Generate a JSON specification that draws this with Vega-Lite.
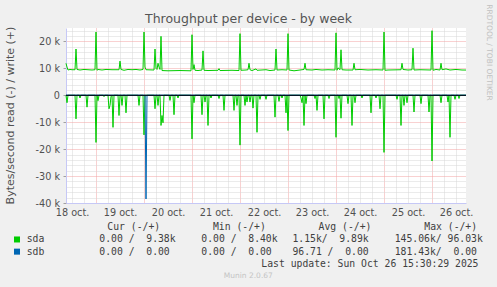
{
"$schema":"https://vega.github.io/schema/vega-lite/v6.json",
"width":400,"height":175,
"autosize":{"type":"none"},
"padding":{"left":66,"top":28,"right":31,"bottom":84},
"background":"#f0f0f0",
"config":{"view":{"fill":"white","stroke":null},"font":"DejaVu Sans"},
"datasets":{
"tp":[
{"device":"sda","dir":"write","t":"2025-10-18T09:00Z","v":11900},
{"device":"sda","dir":"write","t":"2025-10-18T09:30Z","v":10500},
{"device":"sda","dir":"write","t":"2025-10-18T10:00Z","v":9400},
{"device":"sda","dir":"write","t":"2025-10-18T11:00Z","v":9600},
{"device":"sda","dir":"write","t":"2025-10-18T12:00Z","v":9500},
{"device":"sda","dir":"write","t":"2025-10-18T13:30Z","v":9500},
{"device":"sda","dir":"write","t":"2025-10-18T14:00Z","v":17200},
{"device":"sda","dir":"write","t":"2025-10-18T14:30Z","v":9600},
{"device":"sda","dir":"write","t":"2025-10-18T16:00Z","v":9400},
{"device":"sda","dir":"write","t":"2025-10-18T18:00Z","v":9600},
{"device":"sda","dir":"write","t":"2025-10-18T20:00Z","v":9500},
{"device":"sda","dir":"write","t":"2025-10-18T22:00Z","v":9400},
{"device":"sda","dir":"write","t":"2025-10-18T23:30Z","v":9500},
{"device":"sda","dir":"write","t":"2025-10-19T00:00Z","v":23500},
{"device":"sda","dir":"write","t":"2025-10-19T00:30Z","v":9300},
{"device":"sda","dir":"write","t":"2025-10-19T01:00Z","v":9600},
{"device":"sda","dir":"write","t":"2025-10-19T03:00Z","v":9400},
{"device":"sda","dir":"write","t":"2025-10-19T05:00Z","v":9600},
{"device":"sda","dir":"write","t":"2025-10-19T08:00Z","v":9500},
{"device":"sda","dir":"write","t":"2025-10-19T11:30Z","v":9500},
{"device":"sda","dir":"write","t":"2025-10-19T12:00Z","v":12700},
{"device":"sda","dir":"write","t":"2025-10-19T12:30Z","v":9600},
{"device":"sda","dir":"write","t":"2025-10-19T14:00Z","v":9300},
{"device":"sda","dir":"write","t":"2025-10-19T16:00Z","v":9600},
{"device":"sda","dir":"write","t":"2025-10-19T18:00Z","v":9500},
{"device":"sda","dir":"write","t":"2025-10-19T20:00Z","v":9600},
{"device":"sda","dir":"write","t":"2025-10-19T22:00Z","v":9400},
{"device":"sda","dir":"write","t":"2025-10-19T23:30Z","v":9600},
{"device":"sda","dir":"write","t":"2025-10-20T00:00Z","v":23500},
{"device":"sda","dir":"write","t":"2025-10-20T00:30Z","v":10500},
{"device":"sda","dir":"write","t":"2025-10-20T01:00Z","v":9500},
{"device":"sda","dir":"write","t":"2025-10-20T05:00Z","v":9400},
{"device":"sda","dir":"write","t":"2025-10-20T05:30Z","v":17200},
{"device":"sda","dir":"write","t":"2025-10-20T06:00Z","v":10000},
{"device":"sda","dir":"write","t":"2025-10-20T06:30Z","v":9600},
{"device":"sda","dir":"write","t":"2025-10-20T07:00Z","v":11900},
{"device":"sda","dir":"write","t":"2025-10-20T07:30Z","v":10500},
{"device":"sda","dir":"write","t":"2025-10-20T08:00Z","v":9600},
{"device":"sda","dir":"write","t":"2025-10-20T08:30Z","v":21900},
{"device":"sda","dir":"write","t":"2025-10-20T09:00Z","v":9200},
{"device":"sda","dir":"write","t":"2025-10-20T12:00Z","v":9100},
{"device":"sda","dir":"write","t":"2025-10-20T18:00Z","v":9200},
{"device":"sda","dir":"write","t":"2025-10-20T23:30Z","v":9100},
{"device":"sda","dir":"write","t":"2025-10-21T00:00Z","v":22500},
{"device":"sda","dir":"write","t":"2025-10-21T00:30Z","v":9600},
{"device":"sda","dir":"write","t":"2025-10-21T01:00Z","v":11400},
{"device":"sda","dir":"write","t":"2025-10-21T01:30Z","v":9300},
{"device":"sda","dir":"write","t":"2025-10-21T03:00Z","v":9200},
{"device":"sda","dir":"write","t":"2025-10-21T05:00Z","v":9400},
{"device":"sda","dir":"write","t":"2025-10-21T05:30Z","v":16500},
{"device":"sda","dir":"write","t":"2025-10-21T06:00Z","v":9300},
{"device":"sda","dir":"write","t":"2025-10-21T08:00Z","v":9200},
{"device":"sda","dir":"write","t":"2025-10-21T13:00Z","v":9300},
{"device":"sda","dir":"write","t":"2025-10-21T13:30Z","v":9900},
{"device":"sda","dir":"write","t":"2025-10-21T14:00Z","v":9200},
{"device":"sda","dir":"write","t":"2025-10-21T20:00Z","v":9300},
{"device":"sda","dir":"write","t":"2025-10-21T23:30Z","v":9200},
{"device":"sda","dir":"write","t":"2025-10-22T00:00Z","v":22900},
{"device":"sda","dir":"write","t":"2025-10-22T00:30Z","v":9300},
{"device":"sda","dir":"write","t":"2025-10-22T03:00Z","v":9400},
{"device":"sda","dir":"write","t":"2025-10-22T04:00Z","v":9500},
{"device":"sda","dir":"write","t":"2025-10-22T04:30Z","v":11900},
{"device":"sda","dir":"write","t":"2025-10-22T05:00Z","v":9500},
{"device":"sda","dir":"write","t":"2025-10-22T06:00Z","v":9200},
{"device":"sda","dir":"write","t":"2025-10-22T08:00Z","v":9800},
{"device":"sda","dir":"write","t":"2025-10-22T08:30Z","v":9300},
{"device":"sda","dir":"write","t":"2025-10-22T13:00Z","v":9500},
{"device":"sda","dir":"write","t":"2025-10-22T15:00Z","v":9200},
{"device":"sda","dir":"write","t":"2025-10-22T17:30Z","v":9400},
{"device":"sda","dir":"write","t":"2025-10-22T18:00Z","v":17200},
{"device":"sda","dir":"write","t":"2025-10-22T18:30Z","v":9400},
{"device":"sda","dir":"write","t":"2025-10-22T21:00Z","v":9500},
{"device":"sda","dir":"write","t":"2025-10-22T23:30Z","v":9400},
{"device":"sda","dir":"write","t":"2025-10-23T00:00Z","v":22900},
{"device":"sda","dir":"write","t":"2025-10-23T00:30Z","v":9400},
{"device":"sda","dir":"write","t":"2025-10-23T03:00Z","v":9100},
{"device":"sda","dir":"write","t":"2025-10-23T06:00Z","v":9400},
{"device":"sda","dir":"write","t":"2025-10-23T08:00Z","v":9600},
{"device":"sda","dir":"write","t":"2025-10-23T08:30Z","v":11900},
{"device":"sda","dir":"write","t":"2025-10-23T09:00Z","v":9500},
{"device":"sda","dir":"write","t":"2025-10-23T12:00Z","v":9400},
{"device":"sda","dir":"write","t":"2025-10-23T14:00Z","v":9600},
{"device":"sda","dir":"write","t":"2025-10-23T17:00Z","v":9400},
{"device":"sda","dir":"write","t":"2025-10-23T20:00Z","v":9500},
{"device":"sda","dir":"write","t":"2025-10-23T23:30Z","v":9400},
{"device":"sda","dir":"write","t":"2025-10-24T00:00Z","v":23200},
{"device":"sda","dir":"write","t":"2025-10-24T00:30Z","v":9300},
{"device":"sda","dir":"write","t":"2025-10-24T01:00Z","v":10200},
{"device":"sda","dir":"write","t":"2025-10-24T02:00Z","v":9500},
{"device":"sda","dir":"write","t":"2025-10-24T02:30Z","v":16900},
{"device":"sda","dir":"write","t":"2025-10-24T03:00Z","v":9500},
{"device":"sda","dir":"write","t":"2025-10-24T05:00Z","v":9400},
{"device":"sda","dir":"write","t":"2025-10-24T08:30Z","v":9400},
{"device":"sda","dir":"write","t":"2025-10-24T09:00Z","v":11900},
{"device":"sda","dir":"write","t":"2025-10-24T09:30Z","v":9500},
{"device":"sda","dir":"write","t":"2025-10-24T12:00Z","v":9600},
{"device":"sda","dir":"write","t":"2025-10-24T16:00Z","v":9400},
{"device":"sda","dir":"write","t":"2025-10-24T20:00Z","v":9500},
{"device":"sda","dir":"write","t":"2025-10-24T23:30Z","v":9400},
{"device":"sda","dir":"write","t":"2025-10-25T00:00Z","v":23500},
{"device":"sda","dir":"write","t":"2025-10-25T00:30Z","v":9300},
{"device":"sda","dir":"write","t":"2025-10-25T02:00Z","v":9400},
{"device":"sda","dir":"write","t":"2025-10-25T08:30Z","v":9500},
{"device":"sda","dir":"write","t":"2025-10-25T09:00Z","v":11900},
{"device":"sda","dir":"write","t":"2025-10-25T09:30Z","v":9600},
{"device":"sda","dir":"write","t":"2025-10-25T12:00Z","v":9400},
{"device":"sda","dir":"write","t":"2025-10-25T14:00Z","v":9500},
{"device":"sda","dir":"write","t":"2025-10-25T14:30Z","v":17500},
{"device":"sda","dir":"write","t":"2025-10-25T15:00Z","v":9400},
{"device":"sda","dir":"write","t":"2025-10-25T18:00Z","v":9500},
{"device":"sda","dir":"write","t":"2025-10-25T23:30Z","v":9400},
{"device":"sda","dir":"write","t":"2025-10-26T00:00Z","v":24000},
{"device":"sda","dir":"write","t":"2025-10-26T00:30Z","v":9300},
{"device":"sda","dir":"write","t":"2025-10-26T02:00Z","v":9600},
{"device":"sda","dir":"write","t":"2025-10-26T04:00Z","v":9400},
{"device":"sda","dir":"write","t":"2025-10-26T04:30Z","v":11900},
{"device":"sda","dir":"write","t":"2025-10-26T05:00Z","v":9500},
{"device":"sda","dir":"write","t":"2025-10-26T07:00Z","v":9800},
{"device":"sda","dir":"write","t":"2025-10-26T09:00Z","v":9400},
{"device":"sda","dir":"write","t":"2025-10-26T12:00Z","v":9600},
{"device":"sda","dir":"write","t":"2025-10-26T15:00Z","v":9400},
{"device":"sda","dir":"write","t":"2025-10-26T17:00Z","v":9380},
{"device":"sda","dir":"read","t":"2025-10-18T09:00Z","v":0},
{"device":"sda","dir":"read","t":"2025-10-18T09:30Z","v":-2750},
{"device":"sda","dir":"read","t":"2025-10-18T10:00Z","v":0},
{"device":"sda","dir":"read","t":"2025-10-18T13:30Z","v":0},
{"device":"sda","dir":"read","t":"2025-10-18T14:00Z","v":-8750},
{"device":"sda","dir":"read","t":"2025-10-18T14:30Z","v":0},
{"device":"sda","dir":"read","t":"2025-10-18T15:30Z","v":0},
{"device":"sda","dir":"read","t":"2025-10-18T16:00Z","v":-1000},
{"device":"sda","dir":"read","t":"2025-10-18T16:30Z","v":0},
{"device":"sda","dir":"read","t":"2025-10-18T19:00Z","v":0},
{"device":"sda","dir":"read","t":"2025-10-18T19:30Z","v":-4400},
{"device":"sda","dir":"read","t":"2025-10-18T20:00Z","v":0},
{"device":"sda","dir":"read","t":"2025-10-18T23:30Z","v":0},
{"device":"sda","dir":"read","t":"2025-10-19T00:00Z","v":-17500},
{"device":"sda","dir":"read","t":"2025-10-19T00:30Z","v":0},
{"device":"sda","dir":"read","t":"2025-10-19T01:00Z","v":-2000},
{"device":"sda","dir":"read","t":"2025-10-19T01:30Z","v":0},
{"device":"sda","dir":"read","t":"2025-10-19T03:30Z","v":0},
{"device":"sda","dir":"read","t":"2025-10-19T04:00Z","v":-500},
{"device":"sda","dir":"read","t":"2025-10-19T04:30Z","v":0},
{"device":"sda","dir":"read","t":"2025-10-19T06:00Z","v":0},
{"device":"sda","dir":"read","t":"2025-10-19T06:30Z","v":-5000},
{"device":"sda","dir":"read","t":"2025-10-19T07:00Z","v":-3750},
{"device":"sda","dir":"read","t":"2025-10-19T07:30Z","v":-500},
{"device":"sda","dir":"read","t":"2025-10-19T08:00Z","v":0},
{"device":"sda","dir":"read","t":"2025-10-19T08:30Z","v":-11900},
{"device":"sda","dir":"read","t":"2025-10-19T09:00Z","v":0},
{"device":"sda","dir":"read","t":"2025-10-19T11:00Z","v":0},
{"device":"sda","dir":"read","t":"2025-10-19T11:30Z","v":-7500},
{"device":"sda","dir":"read","t":"2025-10-19T12:00Z","v":0},
{"device":"sda","dir":"read","t":"2025-10-19T12:30Z","v":0},
{"device":"sda","dir":"read","t":"2025-10-19T13:00Z","v":-3750},
{"device":"sda","dir":"read","t":"2025-10-19T13:30Z","v":0},
{"device":"sda","dir":"read","t":"2025-10-19T14:30Z","v":0},
{"device":"sda","dir":"read","t":"2025-10-19T15:00Z","v":-6500},
{"device":"sda","dir":"read","t":"2025-10-19T15:30Z","v":0},
{"device":"sda","dir":"read","t":"2025-10-19T21:00Z","v":0},
{"device":"sda","dir":"read","t":"2025-10-19T21:30Z","v":-3750},
{"device":"sda","dir":"read","t":"2025-10-19T22:00Z","v":0},
{"device":"sda","dir":"read","t":"2025-10-19T23:30Z","v":0},
{"device":"sda","dir":"read","t":"2025-10-20T00:00Z","v":-14700},
{"device":"sda","dir":"read","t":"2025-10-20T00:30Z","v":0},
{"device":"sda","dir":"read","t":"2025-10-20T05:00Z","v":0},
{"device":"sda","dir":"read","t":"2025-10-20T05:30Z","v":-5000},
{"device":"sda","dir":"read","t":"2025-10-20T06:00Z","v":0},
{"device":"sda","dir":"read","t":"2025-10-20T06:30Z","v":0},
{"device":"sda","dir":"read","t":"2025-10-20T07:00Z","v":-3750},
{"device":"sda","dir":"read","t":"2025-10-20T07:30Z","v":0},
{"device":"sda","dir":"read","t":"2025-10-20T08:00Z","v":0},
{"device":"sda","dir":"read","t":"2025-10-20T08:30Z","v":-11200},
{"device":"sda","dir":"read","t":"2025-10-20T09:00Z","v":-7500},
{"device":"sda","dir":"read","t":"2025-10-20T09:30Z","v":-10200},
{"device":"sda","dir":"read","t":"2025-10-20T10:00Z","v":0},
{"device":"sda","dir":"read","t":"2025-10-20T12:30Z","v":0},
{"device":"sda","dir":"read","t":"2025-10-20T13:00Z","v":-1900},
{"device":"sda","dir":"read","t":"2025-10-20T13:30Z","v":0},
{"device":"sda","dir":"read","t":"2025-10-20T14:30Z","v":0},
{"device":"sda","dir":"read","t":"2025-10-20T15:00Z","v":-7200},
{"device":"sda","dir":"read","t":"2025-10-20T15:30Z","v":0},
{"device":"sda","dir":"read","t":"2025-10-20T16:30Z","v":0},
{"device":"sda","dir":"read","t":"2025-10-20T17:00Z","v":-1000},
{"device":"sda","dir":"read","t":"2025-10-20T17:30Z","v":0},
{"device":"sda","dir":"read","t":"2025-10-20T23:30Z","v":0},
{"device":"sda","dir":"read","t":"2025-10-21T00:00Z","v":-16200},
{"device":"sda","dir":"read","t":"2025-10-21T00:30Z","v":0},
{"device":"sda","dir":"read","t":"2025-10-21T01:00Z","v":-2750},
{"device":"sda","dir":"read","t":"2025-10-21T01:30Z","v":0},
{"device":"sda","dir":"read","t":"2025-10-21T04:30Z","v":0},
{"device":"sda","dir":"read","t":"2025-10-21T05:00Z","v":-7200},
{"device":"sda","dir":"read","t":"2025-10-21T05:30Z","v":0},
{"device":"sda","dir":"read","t":"2025-10-21T06:00Z","v":0},
{"device":"sda","dir":"read","t":"2025-10-21T06:30Z","v":-2500},
{"device":"sda","dir":"read","t":"2025-10-21T07:00Z","v":0},
{"device":"sda","dir":"read","t":"2025-10-21T07:30Z","v":0},
{"device":"sda","dir":"read","t":"2025-10-21T08:00Z","v":-11200},
{"device":"sda","dir":"read","t":"2025-10-21T08:30Z","v":0},
{"device":"sda","dir":"read","t":"2025-10-21T09:00Z","v":0},
{"device":"sda","dir":"read","t":"2025-10-21T09:30Z","v":-1000},
{"device":"sda","dir":"read","t":"2025-10-21T10:00Z","v":0},
{"device":"sda","dir":"read","t":"2025-10-21T13:00Z","v":0},
{"device":"sda","dir":"read","t":"2025-10-21T13:30Z","v":-1200},
{"device":"sda","dir":"read","t":"2025-10-21T14:00Z","v":0},
{"device":"sda","dir":"read","t":"2025-10-21T15:30Z","v":0},
{"device":"sda","dir":"read","t":"2025-10-21T16:00Z","v":-5600},
{"device":"sda","dir":"read","t":"2025-10-21T16:30Z","v":0},
{"device":"sda","dir":"read","t":"2025-10-21T20:30Z","v":0},
{"device":"sda","dir":"read","t":"2025-10-21T21:00Z","v":-5600},
{"device":"sda","dir":"read","t":"2025-10-21T21:30Z","v":0},
{"device":"sda","dir":"read","t":"2025-10-21T22:00Z","v":0},
{"device":"sda","dir":"read","t":"2025-10-21T22:30Z","v":-3750},
{"device":"sda","dir":"read","t":"2025-10-21T23:00Z","v":0},
{"device":"sda","dir":"read","t":"2025-10-21T23:30Z","v":0},
{"device":"sda","dir":"read","t":"2025-10-22T00:00Z","v":-18500},
{"device":"sda","dir":"read","t":"2025-10-22T00:30Z","v":0},
{"device":"sda","dir":"read","t":"2025-10-22T02:00Z","v":0},
{"device":"sda","dir":"read","t":"2025-10-22T02:30Z","v":-3750},
{"device":"sda","dir":"read","t":"2025-10-22T03:00Z","v":0},
{"device":"sda","dir":"read","t":"2025-10-22T03:30Z","v":-2500},
{"device":"sda","dir":"read","t":"2025-10-22T04:00Z","v":0},
{"device":"sda","dir":"read","t":"2025-10-22T04:30Z","v":0},
{"device":"sda","dir":"read","t":"2025-10-22T05:00Z","v":-2500},
{"device":"sda","dir":"read","t":"2025-10-22T05:30Z","v":0},
{"device":"sda","dir":"read","t":"2025-10-22T06:00Z","v":0},
{"device":"sda","dir":"read","t":"2025-10-22T06:30Z","v":-4750},
{"device":"sda","dir":"read","t":"2025-10-22T07:00Z","v":0},
{"device":"sda","dir":"read","t":"2025-10-22T08:00Z","v":0},
{"device":"sda","dir":"read","t":"2025-10-22T08:30Z","v":-13750},
{"device":"sda","dir":"read","t":"2025-10-22T09:00Z","v":0},
{"device":"sda","dir":"read","t":"2025-10-22T09:30Z","v":0},
{"device":"sda","dir":"read","t":"2025-10-22T10:00Z","v":-1500},
{"device":"sda","dir":"read","t":"2025-10-22T10:30Z","v":0},
{"device":"sda","dir":"read","t":"2025-10-22T12:30Z","v":0},
{"device":"sda","dir":"read","t":"2025-10-22T13:00Z","v":-1500},
{"device":"sda","dir":"read","t":"2025-10-22T13:30Z","v":0},
{"device":"sda","dir":"read","t":"2025-10-22T17:00Z","v":0},
{"device":"sda","dir":"read","t":"2025-10-22T17:30Z","v":-8100},
{"device":"sda","dir":"read","t":"2025-10-22T18:00Z","v":0},
{"device":"sda","dir":"read","t":"2025-10-22T19:00Z","v":0},
{"device":"sda","dir":"read","t":"2025-10-22T19:30Z","v":-2250},
{"device":"sda","dir":"read","t":"2025-10-22T20:00Z","v":0},
{"device":"sda","dir":"read","t":"2025-10-22T20:30Z","v":0},
{"device":"sda","dir":"read","t":"2025-10-22T21:00Z","v":-1000},
{"device":"sda","dir":"read","t":"2025-10-22T21:30Z","v":0},
{"device":"sda","dir":"read","t":"2025-10-22T22:30Z","v":0},
{"device":"sda","dir":"read","t":"2025-10-22T23:00Z","v":-6500},
{"device":"sda","dir":"read","t":"2025-10-22T23:30Z","v":0},
{"device":"sda","dir":"read","t":"2025-10-23T00:00Z","v":-13100},
{"device":"sda","dir":"read","t":"2025-10-23T00:30Z","v":0},
{"device":"sda","dir":"read","t":"2025-10-23T06:00Z","v":0},
{"device":"sda","dir":"read","t":"2025-10-23T06:30Z","v":-1000},
{"device":"sda","dir":"read","t":"2025-10-23T07:00Z","v":-2750},
{"device":"sda","dir":"read","t":"2025-10-23T07:30Z","v":0},
{"device":"sda","dir":"read","t":"2025-10-23T08:00Z","v":-11200},
{"device":"sda","dir":"read","t":"2025-10-23T08:30Z","v":0},
{"device":"sda","dir":"read","t":"2025-10-23T09:00Z","v":-3100},
{"device":"sda","dir":"read","t":"2025-10-23T09:30Z","v":0},
{"device":"sda","dir":"read","t":"2025-10-23T13:00Z","v":0},
{"device":"sda","dir":"read","t":"2025-10-23T13:30Z","v":-1200},
{"device":"sda","dir":"read","t":"2025-10-23T14:00Z","v":0},
{"device":"sda","dir":"read","t":"2025-10-23T14:30Z","v":-5600},
{"device":"sda","dir":"read","t":"2025-10-23T15:00Z","v":0},
{"device":"sda","dir":"read","t":"2025-10-23T17:30Z","v":0},
{"device":"sda","dir":"read","t":"2025-10-23T18:00Z","v":-8750},
{"device":"sda","dir":"read","t":"2025-10-23T18:30Z","v":0},
{"device":"sda","dir":"read","t":"2025-10-23T20:00Z","v":0},
{"device":"sda","dir":"read","t":"2025-10-23T20:30Z","v":-1200},
{"device":"sda","dir":"read","t":"2025-10-23T21:00Z","v":0},
{"device":"sda","dir":"read","t":"2025-10-23T23:30Z","v":0},
{"device":"sda","dir":"read","t":"2025-10-24T00:00Z","v":-15600},
{"device":"sda","dir":"read","t":"2025-10-24T00:30Z","v":0},
{"device":"sda","dir":"read","t":"2025-10-24T01:00Z","v":0},
{"device":"sda","dir":"read","t":"2025-10-24T01:30Z","v":-1200},
{"device":"sda","dir":"read","t":"2025-10-24T02:00Z","v":0},
{"device":"sda","dir":"read","t":"2025-10-24T02:30Z","v":-8500},
{"device":"sda","dir":"read","t":"2025-10-24T03:00Z","v":0},
{"device":"sda","dir":"read","t":"2025-10-24T05:30Z","v":0},
{"device":"sda","dir":"read","t":"2025-10-24T06:00Z","v":-3100},
{"device":"sda","dir":"read","t":"2025-10-24T06:30Z","v":0},
{"device":"sda","dir":"read","t":"2025-10-24T07:30Z","v":0},
{"device":"sda","dir":"read","t":"2025-10-24T08:00Z","v":-11200},
{"device":"sda","dir":"read","t":"2025-10-24T08:30Z","v":0},
{"device":"sda","dir":"read","t":"2025-10-24T09:00Z","v":0},
{"device":"sda","dir":"read","t":"2025-10-24T09:30Z","v":-2750},
{"device":"sda","dir":"read","t":"2025-10-24T10:00Z","v":0},
{"device":"sda","dir":"read","t":"2025-10-24T12:30Z","v":0},
{"device":"sda","dir":"read","t":"2025-10-24T13:00Z","v":-1000},
{"device":"sda","dir":"read","t":"2025-10-24T13:30Z","v":0},
{"device":"sda","dir":"read","t":"2025-10-24T17:00Z","v":0},
{"device":"sda","dir":"read","t":"2025-10-24T17:30Z","v":-6500},
{"device":"sda","dir":"read","t":"2025-10-24T18:00Z","v":0},
{"device":"sda","dir":"read","t":"2025-10-24T19:30Z","v":0},
{"device":"sda","dir":"read","t":"2025-10-24T20:00Z","v":-1000},
{"device":"sda","dir":"read","t":"2025-10-24T20:30Z","v":0},
{"device":"sda","dir":"read","t":"2025-10-24T21:30Z","v":0},
{"device":"sda","dir":"read","t":"2025-10-24T22:00Z","v":-5000},
{"device":"sda","dir":"read","t":"2025-10-24T22:30Z","v":0},
{"device":"sda","dir":"read","t":"2025-10-24T23:30Z","v":0},
{"device":"sda","dir":"read","t":"2025-10-25T00:00Z","v":-21200},
{"device":"sda","dir":"read","t":"2025-10-25T00:30Z","v":0},
{"device":"sda","dir":"read","t":"2025-10-25T06:00Z","v":0},
{"device":"sda","dir":"read","t":"2025-10-25T06:30Z","v":-1500},
{"device":"sda","dir":"read","t":"2025-10-25T07:00Z","v":0},
{"device":"sda","dir":"read","t":"2025-10-25T08:00Z","v":0},
{"device":"sda","dir":"read","t":"2025-10-25T08:30Z","v":-11200},
{"device":"sda","dir":"read","t":"2025-10-25T09:00Z","v":0},
{"device":"sda","dir":"read","t":"2025-10-25T09:30Z","v":0},
{"device":"sda","dir":"read","t":"2025-10-25T10:00Z","v":-3750},
{"device":"sda","dir":"read","t":"2025-10-25T10:30Z","v":0},
{"device":"sda","dir":"read","t":"2025-10-25T11:00Z","v":0},
{"device":"sda","dir":"read","t":"2025-10-25T11:30Z","v":-2750},
{"device":"sda","dir":"read","t":"2025-10-25T12:00Z","v":0},
{"device":"sda","dir":"read","t":"2025-10-25T14:30Z","v":0},
{"device":"sda","dir":"read","t":"2025-10-25T15:00Z","v":-6200},
{"device":"sda","dir":"read","t":"2025-10-25T15:30Z","v":0},
{"device":"sda","dir":"read","t":"2025-10-25T18:00Z","v":0},
{"device":"sda","dir":"read","t":"2025-10-25T18:30Z","v":-3100},
{"device":"sda","dir":"read","t":"2025-10-25T19:00Z","v":0},
{"device":"sda","dir":"read","t":"2025-10-25T22:00Z","v":0},
{"device":"sda","dir":"read","t":"2025-10-25T22:30Z","v":-6200},
{"device":"sda","dir":"read","t":"2025-10-25T23:00Z","v":0},
{"device":"sda","dir":"read","t":"2025-10-25T23:30Z","v":0},
{"device":"sda","dir":"read","t":"2025-10-26T00:00Z","v":-24400},
{"device":"sda","dir":"read","t":"2025-10-26T00:30Z","v":0},
{"device":"sda","dir":"read","t":"2025-10-26T04:00Z","v":0},
{"device":"sda","dir":"read","t":"2025-10-26T04:30Z","v":-2750},
{"device":"sda","dir":"read","t":"2025-10-26T05:00Z","v":0},
{"device":"sda","dir":"read","t":"2025-10-26T07:30Z","v":0},
{"device":"sda","dir":"read","t":"2025-10-26T08:00Z","v":-2500},
{"device":"sda","dir":"read","t":"2025-10-26T08:30Z","v":0},
{"device":"sda","dir":"read","t":"2025-10-26T09:00Z","v":-15600},
{"device":"sda","dir":"read","t":"2025-10-26T09:30Z","v":0},
{"device":"sda","dir":"read","t":"2025-10-26T11:00Z","v":0},
{"device":"sda","dir":"read","t":"2025-10-26T11:30Z","v":-1500},
{"device":"sda","dir":"read","t":"2025-10-26T12:00Z","v":0},
{"device":"sda","dir":"read","t":"2025-10-26T13:00Z","v":0},
{"device":"sda","dir":"read","t":"2025-10-26T13:30Z","v":-1200},
{"device":"sda","dir":"read","t":"2025-10-26T14:00Z","v":0},
{"device":"sda","dir":"read","t":"2025-10-26T17:00Z","v":0},
{"device":"sdb","dir":"write","t":"2025-10-18T09:00Z","v":0},
{"device":"sdb","dir":"write","t":"2025-10-26T17:00Z","v":0},
{"device":"sdb","dir":"read","t":"2025-10-18T09:00Z","v":0},
{"device":"sdb","dir":"read","t":"2025-10-20T00:30Z","v":0},
{"device":"sdb","dir":"read","t":"2025-10-20T01:00Z","v":-38500},
{"device":"sdb","dir":"read","t":"2025-10-20T01:30Z","v":0},
{"device":"sdb","dir":"read","t":"2025-10-26T17:00Z","v":0}
],
"legendrows":[
{"row":0,"col":3,"text":"Cur (-/+)\u00a0\u00a0\u00a0\u00a0\u00a0\u00a0\u00a0\u00a0\u00a0Min (-/+)\u00a0\u00a0\u00a0\u00a0\u00a0\u00a0\u00a0\u00a0\u00a0Avg (-/+)\u00a0\u00a0\u00a0\u00a0\u00a0\u00a0\u00a0\u00a0\u00a0Max (-/+)"},
{"row":1,"col":1,"text":"sda"},
{"row":1,"col":2,"text":"0.00\u00a0/\u00a0\u00a09.38k"},
{"row":1,"col":4,"text":"0.00\u00a0/\u00a0\u00a08.40k"},
{"row":1,"col":7,"text":"\u00a0\u00a01.15k/\u00a0\u00a09.89k"},
{"row":1,"col":8,"text":"145.06k/\u00a096.03k"},
{"row":2,"col":1,"text":"sdb"},
{"row":2,"col":2,"text":"0.00\u00a0/\u00a0\u00a00.00"},
{"row":2,"col":4,"text":"0.00\u00a0/\u00a0\u00a00.00"},
{"row":2,"col":7,"text":"\u00a096.71\u00a0/\u00a0\u00a00.00"},
{"row":2,"col":8,"text":"181.43k/\u00a0\u00a00.00"},
{"row":3,"col":6,"text":"Last update: Sun Oct 26 15:30:29 2025"}
],
"swatch":[
{"device":"sda","row":1,"col":0},
{"device":"sdb","row":2,"col":0}
],
"footer":[
{"row":4,"col":5,"text":"Munin 2.0.67"}
]
},
"layer":[
{"data":{"name":"tp"},
 "layer":[
  {"mark":{"type":"line","strokeWidth":1},
   "encoding":{
    "x":{"field":"t","type":"temporal",
      "scale":{"type":"utc","domain":[1760778000000,1761498000000]},
      "axis":{"title":null,"values":[1760788800000,1760810400000,1760832000000,1760853600000,1760875200000,1760896800000,1760918400000,1760940000000,1760961600000,1760983200000,1761004800000,1761026400000,1761048000000,1761069600000,1761091200000,1761112800000,1761134400000,1761156000000,1761177600000,1761199200000,1761220800000,1761242400000,1761264000000,1761285600000,1761307200000,1761328800000,1761350400000,1761372000000,1761393600000,1761415200000,1761436800000,1761458400000,1761480000000],
        "grid":true,
        "gridColor":{"condition":{"test":"utchours(datum.value)===0","value":"#f2a3a3"},"value":"#d6d6d6"},
        "gridDash":[1,1],"gridWidth":1,"ticks":false,"tickSize":0,
        "labelExpr":"utchours(datum.value)===12 ? utcFormat(datum.value,'%-d oct.') : ''",
        "labelOverlap":false,"labelFlush":false,"labelFont":"DejaVu Sans","labelFontSize":9.7,"labelColor":"#505050",
        "labelBaseline":"alphabetic","labelPadding":12,"domainColor":"#c6c8f6","domainWidth":1}},
    "y":{"field":"v","type":"quantitative",
      "scale":{"domain":[-40000,25000],"nice":false,"zero":false},
      "axis":{"orient":"left","title":"Bytes/second read (-) / write (+)","titleX":-55.5,"titleY":87,"titleAngle":270,"titleAlign":"center","titleBaseline":"middle",
        "titleFont":"DejaVu Sans","titleFontSize":11,"titleFontWeight":"normal","titleColor":"#505050",
        "values":[-40000,-30000,-20000,-10000,0,10000,20000],
        "grid":true,"gridColor":"#f2a3a3","gridDash":[1,1],"gridWidth":1,
        "tickSize":3,"tickColor":"#a0a0a0",
        "labelExpr":"datum.value === 0 ? '0' : (datum.value/1000) + ' k'",
        "labelOverlap":false,"labelFont":"DejaVu Sans","labelFontSize":9.7,"labelColor":"#505050","labelPadding":3.5,
        "domainColor":"#c6c8f6","domainWidth":1}},
    "color":{"field":"device","type":"nominal","scale":{"domain":["sda","sdb"],"range":["#00cc00","#0066b3"]},"legend":null},
    "detail":{"field":"dir","type":"nominal"}
   }},
  {"data":{"values":[{}]},
   "mark":{"type":"rule","color":"#000000","strokeWidth":1},
   "encoding":{"y":{"datum":0,"type":"quantitative","scale":{"domain":[-40000,25000],"nice":false,"zero":false},
     "axis":{"orient":"left","title":null,"labels":false,"ticks":false,"domain":false,
       "values":[-38000,-36000,-34000,-32000,-28000,-26000,-24000,-22000,-18000,-16000,-14000,-12000,-8000,-6000,-4000,-2000,2000,4000,6000,8000,12000,14000,16000,18000,22000,24000],
       "grid":true,"gridColor":"#d6d6d6","gridDash":[1,1],"gridWidth":1}}}}
 ],
 "resolve":{"axis":{"y":"independent"}}
},
{"layer":[
  {"data":{"name":"legendrows"},
   "mark":{"type":"text","font":"DejaVu Sans Mono","fontSize":9.75,"align":"left","baseline":"middle","color":"#404040"},
   "encoding":{
    "x":{"field":"col","type":"quantitative","scale":{"domain":[0,1,2,3,4,5,6,7,8],"range":[-49,-39.3,33.3,41.3,135.3,182.3,195.3,226.4,328.7],"nice":false,"zero":false},
      "axis":{"orient":"top","title":"Throughput per device - by week","labels":false,"ticks":false,"domain":false,"grid":false,
        "titleX":182,"titleY":-5.3,"titleAlign":"center","titleBaseline":"alphabetic","titleAngle":0,
        "titleFont":"DejaVu Sans","titleFontSize":12.5,"titleFontWeight":"normal","titleColor":"#555555"}},
    "y":{"field":"row","type":"quantitative","scale":{"domain":[0,4],"range":[199.3,248],"nice":false,"zero":false},
      "axis":{"orient":"right","title":"RRDTOOL / TOBI OETIKER","labels":false,"ticks":false,"domain":false,"grid":false,
        "titleX":22.5,"titleY":24,"titleAngle":90,"titleAlign":"center","titleBaseline":"middle",
        "titleFont":"DejaVu Sans","titleFontSize":7.5,"titleFontWeight":"normal","titleColor":"#c0c0c0"}},
    "text":{"field":"text","type":"nominal"}
   }},
  {"data":{"name":"swatch"},
   "mark":{"type":"point","shape":"square","filled":true,"size":36,"opacity":1,"strokeWidth":0},
   "encoding":{
    "x":{"field":"col","type":"quantitative","scale":{"domain":[0,1,2,3,4,5,6,7,8],"range":[-49,-39.3,33.3,41.3,135.3,182.3,195.3,226.4,328.7],"nice":false,"zero":false},
      "axis":{"orient":"top","title":"Throughput per device - by week","labels":false,"ticks":false,"domain":false,"grid":false,
        "titleX":182,"titleY":-5.3,"titleAlign":"center","titleBaseline":"alphabetic","titleAngle":0,
        "titleFont":"DejaVu Sans","titleFontSize":12.5,"titleFontWeight":"normal","titleColor":"#555555"}},
    "y":{"field":"row","type":"quantitative","scale":{"domain":[0,4],"range":[199.3,248],"nice":false,"zero":false},
      "axis":{"orient":"right","title":"RRDTOOL / TOBI OETIKER","labels":false,"ticks":false,"domain":false,"grid":false,
        "titleX":22.5,"titleY":24,"titleAngle":90,"titleAlign":"center","titleBaseline":"middle",
        "titleFont":"DejaVu Sans","titleFontSize":7.5,"titleFontWeight":"normal","titleColor":"#c0c0c0"}},
    "color":{"field":"device","type":"nominal","scale":{"domain":["sda","sdb"],"range":["#00cc00","#0066b3"]},"legend":null}
   }},
  {"data":{"name":"footer"},
   "mark":{"type":"text","font":"DejaVu Sans","fontSize":7.5,"align":"center","baseline":"middle","color":"#c4c4c4"},
   "encoding":{
    "x":{"field":"col","type":"quantitative","scale":{"domain":[0,1,2,3,4,5,6,7,8],"range":[-49,-39.3,33.3,41.3,135.3,182.3,195.3,226.4,328.7],"nice":false,"zero":false},
      "axis":{"orient":"top","title":"Throughput per device - by week","labels":false,"ticks":false,"domain":false,"grid":false,
        "titleX":182,"titleY":-5.3,"titleAlign":"center","titleBaseline":"alphabetic","titleAngle":0,
        "titleFont":"DejaVu Sans","titleFontSize":12.5,"titleFontWeight":"normal","titleColor":"#555555"}},
    "y":{"field":"row","type":"quantitative","scale":{"domain":[0,4],"range":[199.3,248],"nice":false,"zero":false},
      "axis":{"orient":"right","title":"RRDTOOL / TOBI OETIKER","labels":false,"ticks":false,"domain":false,"grid":false,
        "titleX":22.5,"titleY":24,"titleAngle":90,"titleAlign":"center","titleBaseline":"middle",
        "titleFont":"DejaVu Sans","titleFontSize":7.5,"titleFontWeight":"normal","titleColor":"#c0c0c0"}},
    "text":{"field":"text","type":"nominal"}
   }}
 ]}
],
"resolve":{"scale":{"x":"independent","y":"independent"}}
}
